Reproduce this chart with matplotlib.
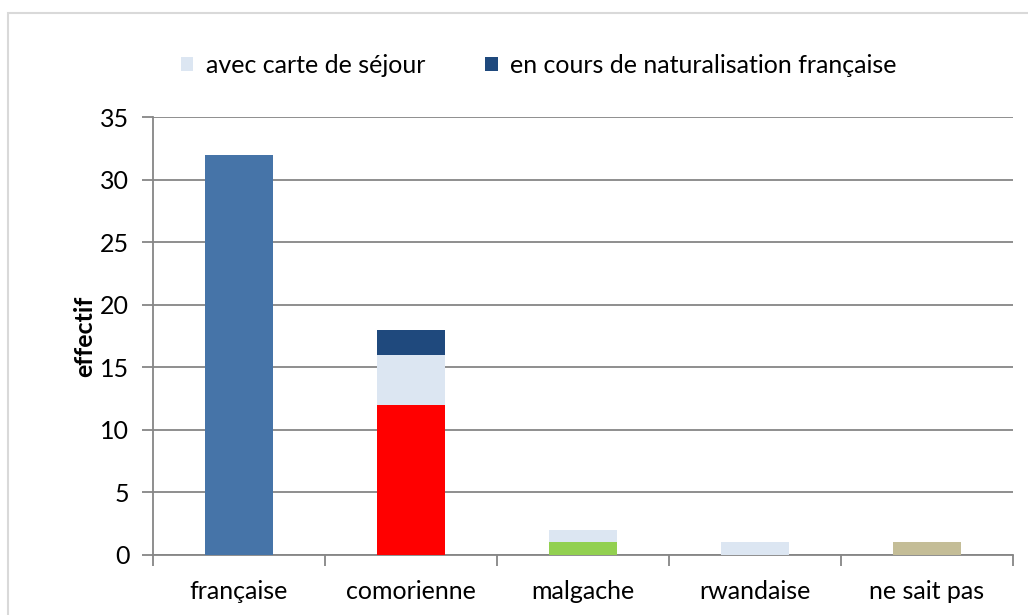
import numpy as np
import matplotlib
matplotlib.use("Agg")
import matplotlib.pyplot as plt
from matplotlib.patches import Rectangle

plt.rcParams['font.family'] = ['Lato', 'DejaVu Sans']

categories = ['française', 'comorienne', 'malgache', 'rwandaise', 'ne sait pas']

# base segment of each bar (one colour per nationality)
base_values = [32, 12, 1, 0, 1]
base_colors = ['#4674A8', '#FF0000', '#92D050', '#DCE6F2', '#C4BD97']

carte_sejour = [0, 4, 1, 1, 0]
naturalisation = [0, 2, 0, 0, 0]

y_ticks = [0, 5, 10, 15, 20, 25, 30, 35]


def main():
    fig = plt.figure(figsize=(10.28, 6.15), dpi=100)
    ax = fig.add_axes([0.1488, 0.0976, 0.8366, 0.7114])

    # light outer frame like the spreadsheet chart area
    fig.patches.append(Rectangle((8 / 1028, -0.05), 1.1, 1 - 13 / 615 + 0.05,
                                 transform=fig.transFigure, fill=False,
                                 edgecolor='#D9D9D9', linewidth=1.5))

    x = np.arange(len(categories))
    w = 0.40

    ax.bar(x, base_values, width=w, color=base_colors, zorder=3)
    bottom = np.array(base_values, dtype=float)
    ax.bar(x, carte_sejour, width=w, bottom=bottom, color='#DCE6F2',
           label='avec carte de séjour', zorder=3)
    bottom += carte_sejour
    ax.bar(x, naturalisation, width=w, bottom=bottom, color='#1F497D',
           label='en cours de naturalisation française', zorder=3)

    ax.set_xlim(-0.5, len(categories) - 0.5)
    ax.set_ylim(0, 35)
    ax.set_yticks(y_ticks)
    ax.yaxis.grid(True, color='#868686', linewidth=1.3, zorder=0)

    # category boundaries get tick marks, labels sit at the centres
    ax.set_xticks(np.arange(-0.5, len(categories), 1.0))
    ax.set_xticklabels([])
    ax.set_xticks(x, minor=True)
    ax.set_xticklabels(categories, minor=True)
    ax.tick_params(axis='x', which='major', length=8, width=1.3, color='#868686')
    ax.tick_params(axis='x', which='minor', length=0, pad=18, labelsize=18)
    ax.tick_params(axis='y', length=8, width=1.3, color='#868686', labelsize=18, pad=9)

    for s in ['top', 'right']:
        ax.spines[s].set_visible(False)
    for s in ['left', 'bottom']:
        ax.spines[s].set_color('#868686')
        ax.spines[s].set_linewidth(1.3)

    ax.set_ylabel('effectif', fontsize=18, fontweight='bold', labelpad=3)

    fig.legend(loc='center', bbox_to_anchor=(0.524, 0.894), ncol=2, frameon=False,
               fontsize=18, handlelength=0.5, handleheight=0.5, handletextpad=0.5,
               columnspacing=2.4)

    fig.savefig('out.png', dpi=100)
    plt.close(fig)


if __name__ == "__main__":
    main()
